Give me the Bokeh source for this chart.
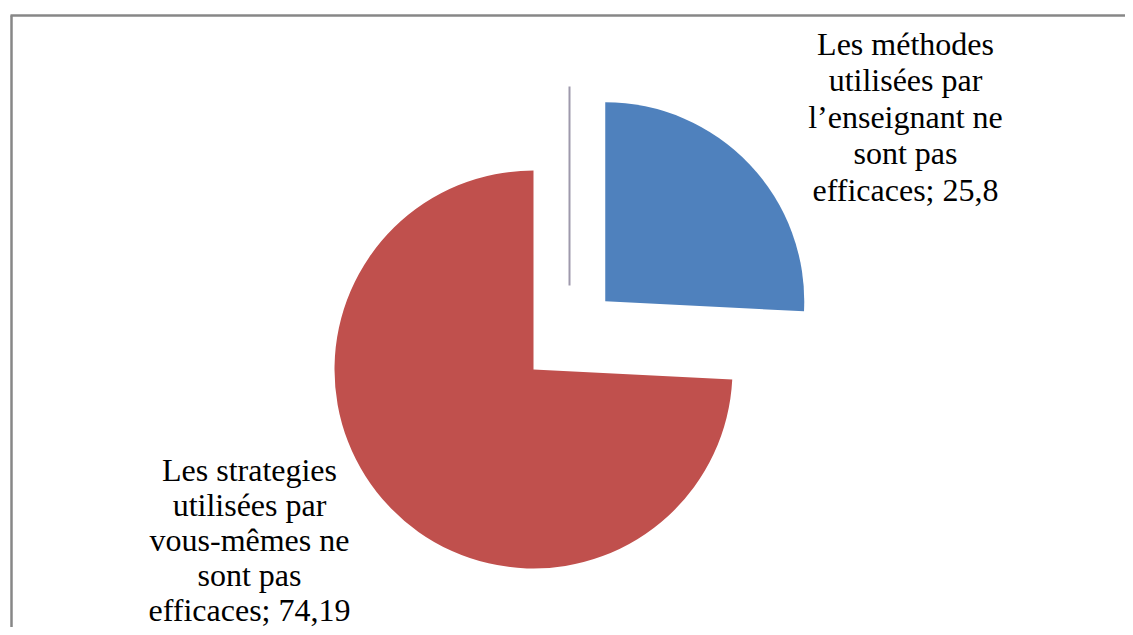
import math
from bokeh.plotting import figure
from bokeh.models import Range1d
from bokeh.core.properties import value
from bokeh.embed import file_html
from bokeh.resources import INLINE

# data
categories = [
    "Les méthodes utilisées par l\u2019enseignant ne sont pas efficaces",
    "Les strategies utilisées par vous-mêmes ne sont pas efficaces",
]
values = [25.8, 74.19]
value_labels = ["25,8", "74,19"]
label_lines = [
    ["Les méthodes", "utilisées par", "l\u2019enseignant ne", "sont pas", "efficaces; 25,8"],
    ["Les strategies", "utilisées par", "vous-mêmes ne", "sont pas", "efficaces; 74,19"],
]
colors = ["#4F81BD", "#C0504D"]

W, H = 1125, 627
p = figure(width=W, height=H, output_backend="svg", toolbar_location=None,
           x_range=Range1d(0, W), y_range=Range1d(0, H), min_border=0)
p.axis.visible = False
p.grid.visible = False
p.outline_line_color = None
p.background_fill_color = "white"
p.border_fill_color = "white"

# frame (chart area border, cropped at right and bottom)
p.segment(x0=[11, 10], y0=[612, 612], x1=[11, W], y1=[0, 612], line_color="#878787", line_width=2.5)

total = sum(values)
cx, cy, r = 533, 258, 199
explode = 99
start = math.pi / 2
angles = []
for v in values:
    a = 2 * math.pi * v / total
    angles.append((start, start - a))
    start -= a

# blue slice (exploded)
s0, e0 = angles[0]
mid = (s0 + e0) / 2
bx, by = cx + explode * math.cos(mid), cy + explode * math.sin(mid)
p.wedge(x=[bx], y=[by], radius=r, start_angle=[s0], end_angle=[e0],
        direction="clock", fill_color=colors[0], line_color=None)
# red slice
s1, _ = angles[1]
p.wedge(x=[cx], y=[cy], radius=r, start_angle=[s1], end_angle=[math.pi / 2],
        direction="clock", fill_color=colors[1], line_color=None)

# leader line
p.segment(x0=[569], y0=[541], x1=[569], y1=[342], line_color="#9E99AC", line_width=2)

# labels
fs = 32
anchors = [(905, 627 - 43, 36.5), (249, 627 - 469, 35)]
for lines, (lx, ly, spacing) in zip(label_lines, anchors):
    xs = [lx] * len(lines)
    ys = [ly - i * spacing for i in range(len(lines))]
    p.text(x=xs, y=ys, text=lines, text_align="center", text_baseline="middle",
           text_font=value("Liberation Serif"), text_font_size=f"{fs}px", text_color="black")

open("out.html", "w").write(file_html(p, INLINE))
